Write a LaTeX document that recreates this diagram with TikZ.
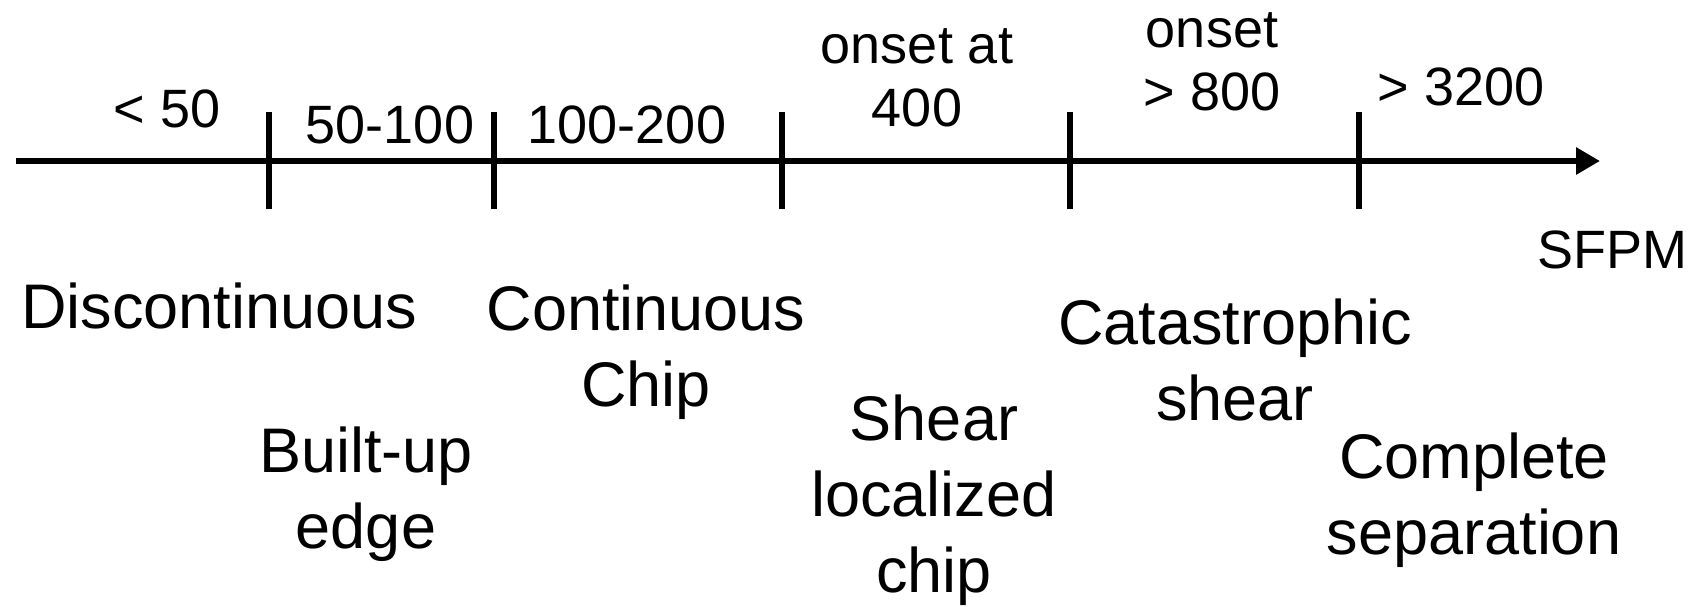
\documentclass[tikz,border=0pt]{standalone}
\usepackage{fontspec}
\setmainfont{Liberation Sans}
\usetikzlibrary{arrows.meta}
\begin{document}
\begin{tikzpicture}[x=0.5pt,y=-0.5pt,
  axisline/.style={line width=3.4pt},
  tickline/.style={line width=3.4pt},
  small/.style={font=\fontsize{27}{31.5}\selectfont, inner sep=0pt, anchor=base, align=center},
  big/.style={font=\fontsize{31.5}{38}\selectfont, inner sep=0pt, anchor=base, align=center}]
\useasboundingbox (0,0) rectangle (1699,606);
\coordinate (start) at (16,161);
\coordinate (end) at (1600,161);
\draw[axisline,-{Triangle[length=12pt,width=13pt]}] (start) -- (end);
\foreach \i/\x in {1/269,2/494,3/782,4/1070,5/1359}{
  \coordinate (t\i top) at (\x,112);
  \coordinate (t\i bot) at (\x,209);
  \draw[tickline] (t\i top) -- (t\i bot);
}
\node[small] (lt50) at (167,127) {< 50};
\node[small] (l50) at (390,143) {50-100};
\node[small] (l100) at (627,143) {100-200};
\node[small] (l400) at (917,126) {onset at\\400};
\node[small] (l800) at (1212,110) {onset\\> 800};
\node[small] (l3200) at (1461,105) {> 3200};
\node[small] (sfpm) at (1612,268) {SFPM};
\node[big] (disc) at (219,328) {Discontinuous};
\node[big] (cont) at (646,406) {Continuous\\Chip};
\node[big] (bue) at (366,548) {Built-up\\edge};
\node[big] (shear) at (934,592) {Shear\\localized\\chip};
\node[big] (cat) at (1235,420) {Catastrophic\\shear};
\node[big] (comp) at (1474,554) {Complete\\separation};
\end{tikzpicture}
\end{document}
